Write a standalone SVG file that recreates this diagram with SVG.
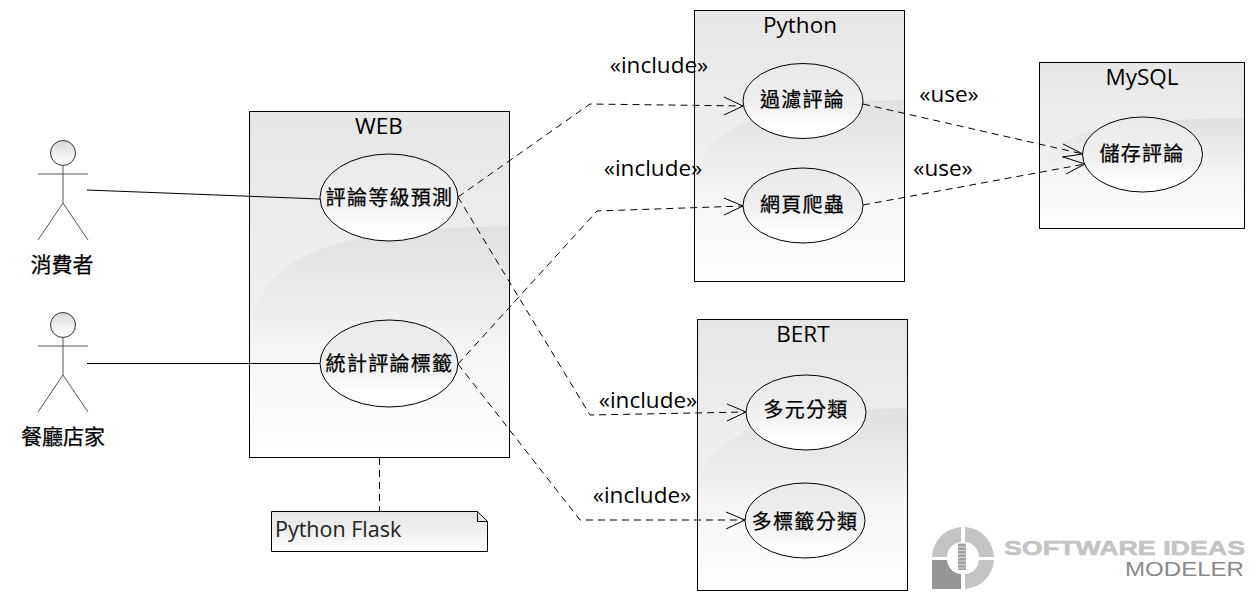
<svg xmlns="http://www.w3.org/2000/svg" width="1255" height="600" viewBox="0 0 1255 600">
<style>
text{font-family:"Open Sans","Noto Sans CJK TC",sans-serif;fill:#000;text-anchor:middle}
.t{font-size:22.500px}
.u{font-size:22.500px}
.c{font-size:20px;font-family:"Noto Sans CJK TC",sans-serif;letter-spacing:1.300px;font-weight:400;stroke:#000;stroke-width:.25}
.box{fill:url(#g);stroke:#000;stroke-width:1}
.uc{fill:url(#g2);stroke:#000;stroke-width:1}
.w{fill:url(#wv)}
.s{fill:none;stroke:#000;stroke-width:1}
.d{fill:none;stroke:#000;stroke-width:1;stroke-dasharray:7 5}
.a{fill:none;stroke:#000;stroke-width:1}
.act{fill:none;stroke:#555;stroke-width:1}
.lg{fill:#c4c4c4}
</style>
<defs>
<linearGradient id="g" x1="0" y1="0" x2="0" y2="1"><stop offset="0" stop-color="#e6e6e6"/><stop offset=".5" stop-color="#efefef"/><stop offset="1" stop-color="#fff"/></linearGradient>
<linearGradient id="g2" x1="0" y1="0" x2="0" y2="1"><stop offset="0" stop-color="#e9e9e9"/><stop offset=".55" stop-color="#f0f0f0"/><stop offset=".85" stop-color="#fff"/></linearGradient>
<linearGradient id="g3" x1="0" y1="0" x2="0" y2="1"><stop offset="0" stop-color="#d8d8d8"/><stop offset=".6" stop-color="#f2f2f2"/><stop offset="1" stop-color="#fff"/></linearGradient>
<linearGradient id="wv" x1="0" y1="0" x2="0" y2="1"><stop offset="0" stop-color="#d4d4d4" stop-opacity=".45"/><stop offset="1" stop-color="#d4d4d4" stop-opacity="0"/></linearGradient>
</defs>

<g id="web">
<rect class="box" x="249.500" y="111.500" width="260" height="346"/>
<path class="w" d="M250 345C250 255 330 228 509 226V345Z"/>
<text class="t" x="379" y="134">WEB</text>
</g>
<g id="python">
<rect class="box" x="694.500" y="10.500" width="210" height="271"/>
<path class="w" d="M695 185C698 125 770 101 904 100V185Z"/>
<text class="t" x="800" y="33">Python</text>
</g>
<g id="mysql">
<rect class="box" x="1039.500" y="62.500" width="205" height="166"/>
<path class="w" d="M1040 170C1050 130 1120 119 1244 118V170Z"/>
<text class="t" x="1142" y="85">MySQL</text>
</g>
<g id="bert">
<rect class="box" x="697.500" y="319.500" width="210" height="271"/>
<path class="w" d="M698 495C701 432 775 410 907 408V495Z"/>
<text class="t" x="803" y="342">BERT</text>
</g>

<g id="uc-predict"><ellipse class="uc" cx="389" cy="197.500" rx="69" ry="43.500"/><text class="c" x="389.500" y="205">評論等級預測</text></g>
<g id="uc-stats"><ellipse class="uc" cx="389" cy="363.500" rx="69" ry="43.500"/><text class="c" x="389.500" y="371">統計評論標籤</text></g>
<g id="uc-filter"><ellipse class="uc" cx="803" cy="101" rx="60" ry="37.500"/><text class="c" x="802.500" y="107">過濾評論</text></g>
<g id="uc-crawl"><ellipse class="uc" cx="803" cy="205.500" rx="60" ry="37.500"/><text class="c" x="802.500" y="212">網頁爬蟲</text></g>
<g id="uc-store"><ellipse class="uc" cx="1142.500" cy="154.500" rx="60" ry="37.500"/><text class="c" x="1142" y="161">儲存評論</text></g>
<g id="uc-multi"><ellipse class="uc" cx="806" cy="412.500" rx="60" ry="37.500"/><text class="c" x="806" y="417">多元分類</text></g>
<g id="uc-label"><ellipse class="uc" cx="805" cy="520.500" rx="60" ry="37.500"/><text class="c" x="805" y="529">多標籤分類</text></g>

<g id="actor-consumer">
<circle cx="63" cy="153" r="12.500" fill="url(#g3)" stroke="#333"/>
<path class="act" d="M63 166V203M38 174H88M63 203L38 240M63 203L88 240"/>
<text class="c" x="62" y="272" style="letter-spacing:0;font-size:21px">消費者</text>
</g>
<g id="actor-owner">
<circle cx="63" cy="325" r="12.500" fill="url(#g3)" stroke="#333"/>
<path class="act" d="M63 338V375M38 346H88M63 375L38 412M63 375L88 412"/>
<text class="c" x="63" y="444" style="letter-spacing:0;font-size:21px">餐廳店家</text>
</g>

<g id="note">
<path d="M271.500 511.500H477.500L487.500 521.500V551.500H271.500Z" fill="url(#g)" stroke="#000"/>
<path class="s" d="M477.500 511.500V521.500H487.500"/>
<text x="275" y="537" style="font-size:21.500px;text-anchor:start;fill:#222">Python Flask</text>
</g>

<g id="connectors">
<path class="s" d="M87 190L320 199"/>
<path class="s" d="M87 363.500H320"/>
<path class="d" d="M379.500 458V511"/>
<path class="d" d="M458 197L590 104L743 106"/>
<path class="a" d="M724 97L743 106L724 115"/>
<path class="d" d="M458 364L597 211L743 206"/>
<path class="a" d="M724 198L743 206L724 215"/>
<path class="d" d="M458 197L590 415L746 412"/>
<path class="a" d="M727 404L746 412L727 421"/>
<path class="d" d="M458 364L580 520L745 520"/>
<path class="a" d="M726 512L745 520L726 529"/>
<path class="d" d="M863 104L1083 154"/>
<path class="a" d="M1063 144L1083 154L1062 157"/>
<path class="d" d="M863 205L1085 164"/>
<path class="a" d="M1063 157L1085 164L1066 174"/>
</g>

<g id="labels">
<text class="u" x="659" y="73">«include»</text>
<text class="u" x="653" y="176">«include»</text>
<text class="u" x="648" y="408">«include»</text>
<text class="u" x="642" y="503">«include»</text>
<text class="u" x="949" y="102">«use»</text>
<text class="u" x="943" y="176">«use»</text>
</g>

<g id="logo">
<path class="lg" d="M961 527A31 31 0 0 0 932 557H947A15 15 0 0 1 961 542Z"/>
<path class="lg" d="M965 527A31 31 0 0 1 994 557H979A15 15 0 0 0 965 542Z"/>
<path class="lg" d="M994 560A31 31 0 0 1 965 589V574A15 15 0 0 0 979 560Z"/>
<path fill="#969696" d="M932 560H947A15 15 0 0 0 961 574V589H932Z"/>
<path d="M958 543H966V570H958Z" fill="#a0a0a0"/>
<path d="M962 543V570" fill="none" stroke="#fff" stroke-width="8" stroke-dasharray="1 2.500" opacity=".6"/>
<text x="1004" y="555" textLength="241" lengthAdjust="spacingAndGlyphs" style="font-family:'Liberation Sans',sans-serif;font-weight:700;font-size:21px;text-anchor:start;fill:#c4c4c4;stroke:#c4c4c4;stroke-width:.6">SOFTWARE IDEAS</text>
<text x="1125" y="576" textLength="119" lengthAdjust="spacingAndGlyphs" style="font-family:'Liberation Sans',sans-serif;font-size:21px;text-anchor:start;fill:#8a8a8a">MODELER</text>
</g>
</svg>
